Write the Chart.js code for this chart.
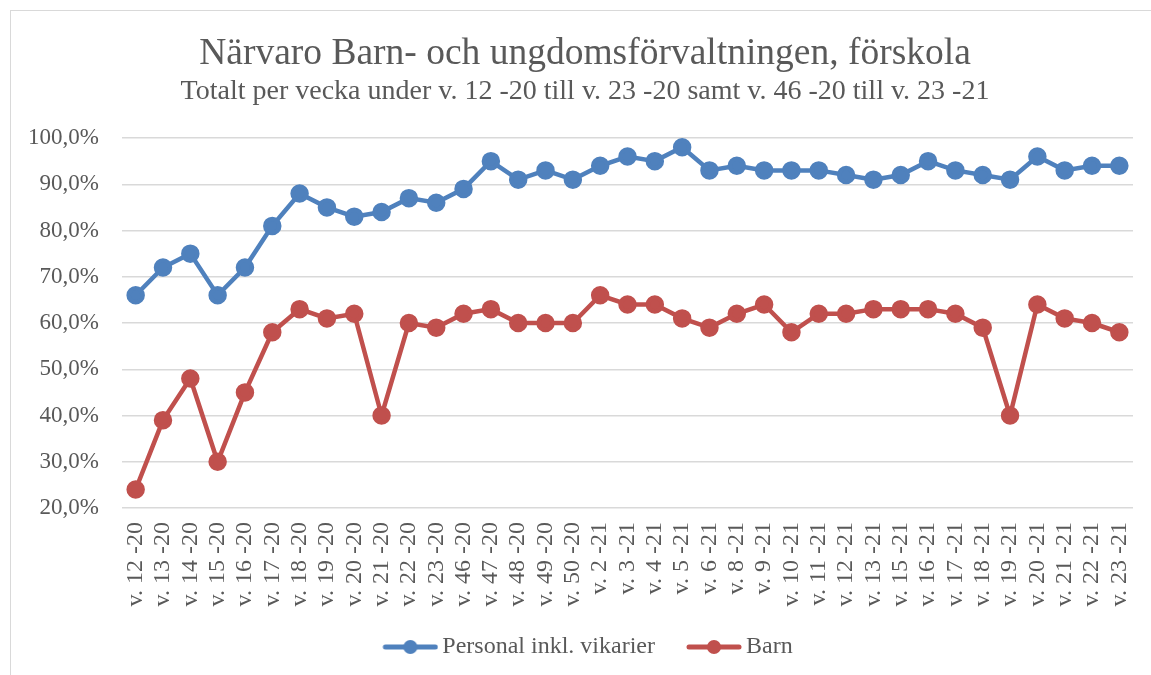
<!DOCTYPE html>
<html>
<head>
<meta charset="utf-8">
<script src="https://cdn.jsdelivr.net/npm/chart.js@4"></script>
<style>
  html, body { margin: 0; padding: 0; background: #fff; overflow: hidden; }
  #wrap { position: relative; width: 1151px; height: 675px; }
  #frame { position: absolute; left: 10px; top: 10px; width: 1200px; height: 700px; border: 1px solid #d9d9d9; box-sizing: border-box; }
  #chartCanvas { position: absolute; left: 0; top: 0; }
</style>
</head>
<body>
<div id="wrap">
  <div id="frame"></div>
  <canvas id="chartCanvas" width="1151" height="675"></canvas>
</div>
<script>
const weeks = [
    'v. 12 -20', 'v. 13 -20', 'v. 14 -20', 'v. 15 -20', 'v. 16 -20', 'v. 17 -20', 'v. 18 -20',
    'v. 19 -20', 'v. 20 -20', 'v. 21 -20', 'v. 22 -20', 'v. 23 -20', 'v. 46 -20', 'v. 47 -20',
    'v. 48 -20', 'v. 49 -20', 'v. 50 -20', 'v. 2 -21', 'v. 3 -21', 'v. 4 -21', 'v. 5 -21',
    'v. 6 -21', 'v. 8 -21', 'v. 9 -21', 'v. 10 -21', 'v. 11 -21', 'v. 12 -21', 'v. 13 -21',
    'v. 15 -21', 'v. 16 -21', 'v. 17 -21', 'v. 18 -21', 'v. 19 -21', 'v. 20 -21', 'v. 21 -21',
    'v. 22 -21', 'v. 23 -21'
];
const personal = [66, 72, 75, 66, 72, 81, 88, 85, 83, 84, 87, 86, 89, 95, 91, 93, 91, 94, 96, 95, 98,
    93, 94, 93, 93, 93, 92, 91, 92, 95, 93, 92, 91, 96, 93, 94, 94];
const barn = [24, 39, 48, 30, 45, 58, 63, 61, 62, 40, 60, 59, 62, 63, 60, 60, 60, 66, 64, 64, 61,
    59, 62, 64, 58, 62, 62, 63, 63, 63, 62, 59, 40, 64, 61, 60, 58];
const yMin = 20, yMax = 100, yStep = 10;

const serif = "'Liberation Serif', 'Times New Roman', serif";
const grey = '#595959';
const blue = '#4f81bd';
const red = '#c0504d';

// legend marker: line with a dot, drawn at the right end of a wider transparent canvas
function legendMarker(color) {
    const c = document.createElement('canvas');
    c.width = 69; c.height = 16;
    const g = c.getContext('2d');
    const x0 = 69 - 56;
    g.strokeStyle = color; g.lineWidth = 5; g.lineCap = 'round';
    g.beginPath(); g.moveTo(x0 + 3, 8); g.lineTo(x0 + 53, 8); g.stroke();
    g.fillStyle = color;
    g.beginPath(); g.arc(x0 + 28, 8, 7, 0, Math.PI * 2); g.fill();
    return c;
}

const ctx = document.getElementById('chartCanvas').getContext('2d');
new Chart(ctx, {
    type: 'line',
    data: {
        labels: weeks,
        datasets: [
            { label: 'Personal inkl. vikarier', data: personal, borderColor: blue, backgroundColor: blue,
              borderWidth: 4.5, pointRadius: 7, pointHoverRadius: 7, pointStyle: 'circle' },
            { label: 'Barn', data: barn, borderColor: red, backgroundColor: red,
              borderWidth: 4.5, pointRadius: 7, pointHoverRadius: 7, pointStyle: 'circle' }
        ]
    },
    options: {
        responsive: false,
        animation: false,
        layout: { padding: { left: 19, right: 0, top: 0, bottom: 6 } },
        elements: { line: { tension: 0 } },
        plugins: {
            title: {
                display: true,
                text: 'Närvaro Barn- och ungdomsförvaltningen, förskola',
                color: grey,
                font: { family: serif, size: 37.5, weight: 'normal', lineHeight: 1.2 },
                padding: { top: 31.5, bottom: 1.5 }
            },
            subtitle: {
                display: true,
                text: 'Totalt per vecka under v. 12 -20 till v. 23 -20 samt v. 46 -20 till v. 23 -21',
                color: grey,
                font: { family: serif, size: 28, weight: 'normal', lineHeight: 1.0 },
                padding: { top: 0, bottom: 32 }
            },
            legend: {
                position: 'bottom',
                labels: {
                    usePointStyle: true,
                    pointStyleWidth: 53,
                    color: grey,
                    font: { family: serif, size: 24 },
                    padding: 26,
                    generateLabels: chart => chart.data.datasets.map((ds, i) => ({
                        text: ds.label,
                        fontColor: grey,
                        pointStyle: legendMarker(ds.borderColor),
                        lineWidth: 0,
                        strokeStyle: ds.borderColor,
                        fillStyle: ds.borderColor,
                        datasetIndex: i
                    }))
                }
            },
            tooltip: { enabled: false }
        },
        scales: {
            x: {
                offset: true,
                afterFit: axis => { axis.height = 101; axis.paddingLeft = 0; axis.paddingRight = 18; },
                grid: { display: false, drawTicks: false },
                border: { display: false },
                ticks: {
                    autoSkip: false, minRotation: 90, maxRotation: 90,
                    color: grey, font: { family: serif, size: 24 }, padding: 14
                }
            },
            y: {
                min: yMin, max: yMax,
                afterFit: axis => { axis.width = 103; },
                grid: { color: '#d9d9d9', lineWidth: 1.5, drawTicks: false },
                border: { display: false },
                ticks: {
                    stepSize: yStep, color: grey, padding: 23,
                    font: { family: serif, size: 23 },
                    callback: v => v.toFixed(1).replace('.', ',') + '%'
                }
            }
        }
    }
});
</script>
</body>
</html>
